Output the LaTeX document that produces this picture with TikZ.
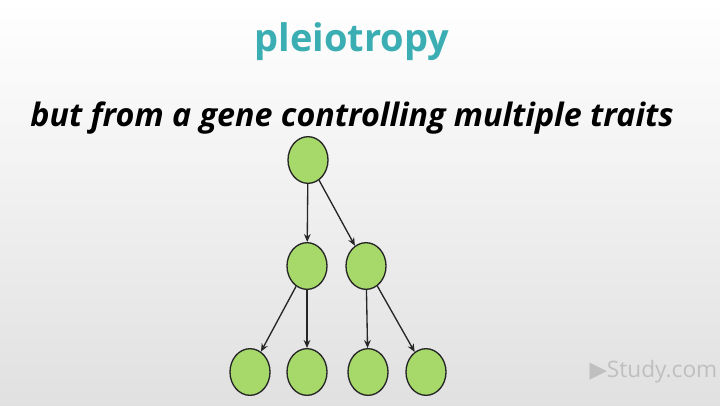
\documentclass[tikz,border=0pt]{standalone}
\usepackage{fontspec}
\setmainfont{Open Sans}
\newfontfamily\symfont{DejaVu Sans}
\usetikzlibrary{shapes.geometric,arrows.meta}
\definecolor{teal1}{HTML}{3AAEB2}
\definecolor{leaf}{HTML}{A6D96A}
\tikzset{
  gene/.style={ellipse,draw=black!85,line width=1pt,fill=leaf,minimum width=30pt,minimum height=35pt,inner sep=0pt},
  link/.style={-{Stealth[length=6pt,width=5pt]},line width=1pt,black!85}
}
\begin{document}
\begin{tikzpicture}[x=0.75pt,y=-0.75pt]
\shade[top color=white,bottom color=black!12] (0,0) rectangle (720,405);
\useasboundingbox (0,0) rectangle (720,405);
\node (title) at (352,42) {\fontsize{28.5}{32}\selectfont\bfseries\color{teal1}pleiotropy};
\node (sub) at (352,118) {\fontsize{24.2}{28}\selectfont\bfseries\itshape but from a gene controlling multiple traits};
\node[gene] (t) at (308,160) {};
\node[gene] (m1) at (307,266) {};
\node[gene] (m2) at (366,266) {};
\node[gene] (b1) at (250,372) {};
\node[gene] (b2) at (307,372) {};
\node[gene] (b3) at (368,372) {};
\node[gene] (b4) at (426,372) {};
\draw[link] (t) -- (m1);
\draw[link] (t) -- (m2);
\draw[link] (m1) -- (b1);
\draw[link] (m1) -- (b2);
\draw[link] (m2) -- (b3);
\draw[link] (m2) -- (b4);
\node[text=black!25,anchor=east] (wm) at (722,372) {\fontsize{17}{20}\selectfont{\symfont ▶}Study.com};
\end{tikzpicture}
\end{document}
